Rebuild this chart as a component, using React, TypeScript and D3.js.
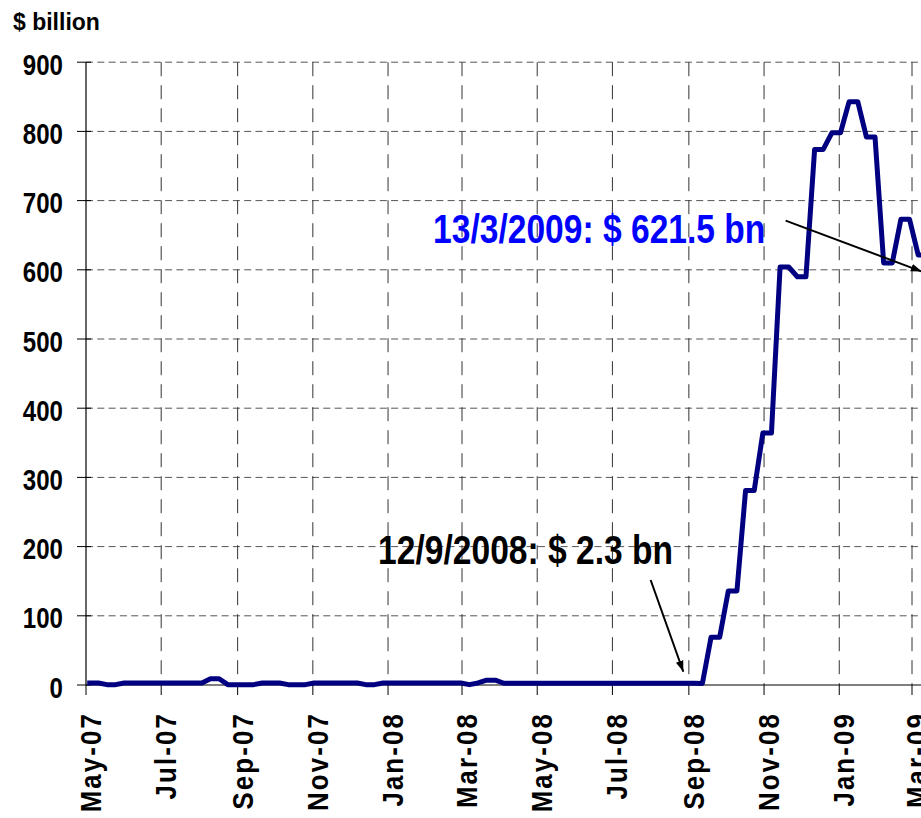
import { scaleLinear, scaleTime, line as d3Line, timeMonth, timeFriday, timeFormat } from "d3";

const WIDTH = 921;
const HEIGHT = 818;

// weekly (Friday) readings, $ billion, 4 May 2007 .. 13 Mar 2009
const seriesStart = new Date(2007, 4, 4);
const seriesEnd = new Date(2009, 2, 14);
const values = [
  3, 3, 0.5, 0.5, 3, 3, 3, 3, 3, 3, 3, 3, 3, 3, 9, 9, 0.5, 0.5, 0.5, 0.5,
  3, 3, 3, 0.5, 0.5, 0.5, 3, 3, 3, 3, 3, 3, 0.5, 0.5, 3, 3, 3, 3, 3, 3,
  3, 3, 3, 3, 0.5, 3, 7, 7, 2.5, 2.5, 2.5, 2.5, 2.5, 2.5, 2.5, 2.5, 2.5, 2.5, 2.5, 2.5,
  2.5, 2.5, 2.5, 2.5, 2.5, 2.5, 2.5, 2.5, 2.5, 2.5, 2.5, 2.3, 69, 69, 136, 136, 281, 281, 364, 364,
  604, 604, 590, 590, 774, 774, 798, 798, 843, 843, 792, 792, 610, 610, 673, 673, 621.5, 621.5,
];

const yTicks = [0, 100, 200, 300, 400, 500, 600, 700, 800, 900];
const xDomain = [new Date(2007, 4, 1), new Date(2009, 2, 1)];

// annotations (in data units)
const blueLabel = { text: "13/3/2009: $ 621.5 bn", date: new Date(2008, 1, 6, 12), value: 638.7 };
const blackLabel = { text: "12/9/2008: $ 2.3 bn", date: new Date(2007, 11, 23, 22), value: 174.9 };
const arrows = [
  { from: [new Date(2008, 10, 18, 12), 671], to: [new Date(2009, 2, 9), 597.5] },
  { from: [new Date(2008, 7, 1), 151.7], to: [new Date(2008, 7, 27, 12), 19.2] },
] as const;

const FONT = "'Liberation Sans', Arial, Helvetica, sans-serif";

export default function App() {
  const x = scaleTime().domain(xDomain).range([86, 912]);
  const y = scaleLinear().domain([0, 900]).range([685, 62.2]);

  const dates = timeFriday.range(seriesStart, seriesEnd);
  const pts = values.map((v, i) => [dates[i], v] as [Date, number]);
  const path =
    d3Line<[Date, number]>()
      .x((d) => x(d[0]))
      .y((d) => y(d[1]))(pts) ?? "";

  const xTicks = timeMonth.every(2)!.range(xDomain[0], new Date(2009, 3, 2));
  const fmt = timeFormat("%b-%y");
  const x0 = x.range()[0];

  return (
    <div style={{ position: "absolute", left: 0, top: 0 }}>
      <svg width={WIDTH} height={HEIGHT} viewBox={`0 0 ${WIDTH} ${HEIGHT}`} style={{ display: "block", background: "#fff" }}>
        <defs>
          <marker id="head" viewBox="0 0 10 7" refX={10} refY={3.5} markerWidth={11} markerHeight={8} markerUnits="userSpaceOnUse" orient="auto">
            <path d="M0,0 L10,3.5 L0,7 z" fill="#000" />
          </marker>
        </defs>

        {/* horizontal gridlines */}
        {yTicks.slice(1).map((t) => (
          <line key={"h" + t} x1={x0} x2={WIDTH} y1={y(t)} y2={y(t)} stroke="#555" strokeWidth={1} strokeDasharray="7 4.3" />
        ))}
        {/* vertical gridlines */}
        {xTicks.slice(1).map((d) => (
          <line key={"v" + +d} x1={x(d)} x2={x(d)} y1={y(900)} y2={y(0)} stroke="#333" strokeWidth={1} strokeDasharray="14 9" />
        ))}

        {/* axes */}
        <line x1={x0} x2={x0} y1={y(900)} y2={y(0)} stroke="#000" strokeWidth={1.2} />
        <line x1={x0} x2={WIDTH} y1={y(0)} y2={y(0)} stroke="#000" strokeWidth={1.2} />
        {yTicks.map((t) => (
          <line key={"yt" + t} x1={x0 - 9} x2={x0 + 5} y1={y(t)} y2={y(t)} stroke="#000" strokeWidth={1} />
        ))}
        {xTicks.map((d) => (
          <line key={"xt" + +d} x1={x(d)} x2={x(d)} y1={y(0)} y2={y(0) + 10} stroke="#000" strokeWidth={1} />
        ))}

        {/* y labels */}
        {yTicks.map((t) => (
          <text
            key={"yl" + t}
            transform={`translate(63,${y(t) + 12.5}) scale(0.83,1)`}
            textAnchor="end"
            fontFamily={FONT}
            fontWeight="bold"
            fontSize={29}
            fill="#000"
          >
            {t}
          </text>
        ))}

        {/* x labels */}
        {xTicks.map((d) => (
          <text
            key={"xl" + +d}
            transform={`translate(${x(d) + 15},${y(0) + 27}) rotate(-90) scale(0.86,1)`}
            textAnchor="end"
            fontFamily={FONT}
            fontWeight="bold"
            fontSize={30}
            letterSpacing={2.5}
            fill="#000"
          >
            {fmt(d)}
          </text>
        ))}

        <text x={13} y={30} fontFamily={FONT} fontWeight="bold" fontSize={23} fill="#000">
          $ billion
        </text>

        {/* series */}
        <path d={path} fill="none" stroke="#000080" strokeWidth={5} strokeLinejoin="round" strokeLinecap="square" />

        {/* annotations */}
        <text
          transform={`translate(${x(blueLabel.date)},${y(blueLabel.value)}) scale(0.84,1)`}
          fontFamily={FONT}
          fontWeight="bold"
          fontSize={40}
          fill="#0000ff"
        >
          {blueLabel.text}
        </text>
        <text
          transform={`translate(${x(blackLabel.date)},${y(blackLabel.value)}) scale(0.84,1)`}
          fontFamily={FONT}
          fontWeight="bold"
          fontSize={40}
          fill="#000"
        >
          {blackLabel.text}
        </text>
        {arrows.map((a, i) => (
          <line
            key={"a" + i}
            x1={x(a.from[0])}
            y1={y(a.from[1])}
            x2={x(a.to[0])}
            y2={y(a.to[1])}
            stroke="#000"
            strokeWidth={2}
            markerEnd="url(#head)"
          />
        ))}
      </svg>
    </div>
  );
}
